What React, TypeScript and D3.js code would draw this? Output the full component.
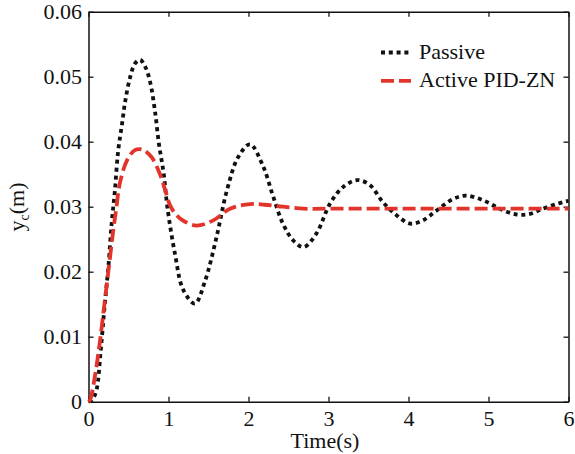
import React from "react";
import * as d3 from "d3";

// time (s) / displacement (m)
const tPassive = [0, 0.05, 0.1, 0.15, 0.2, 0.25, 0.29, 0.33, 0.37, 0.42, 0.46, 0.52, 0.58, 0.645, 0.71, 0.77, 0.83, 0.88, 0.94, 0.985, 1.08, 1.185, 1.33, 1.46, 1.6, 1.73, 1.87, 2.02, 2.18, 2.31, 2.43, 2.56, 2.69, 2.85, 3.02, 3.18, 3.36, 3.52, 3.68, 3.85, 4.02, 4.18, 4.35, 4.56, 4.72, 4.93, 5.14, 5.35, 5.52, 5.68, 5.93, 6.0];
const yPassive = [0, 0.0004, 0.0018, 0.0075, 0.0145, 0.021, 0.0275, 0.0325, 0.0385, 0.0428, 0.0463, 0.0499, 0.052, 0.0526, 0.0515, 0.0492, 0.0448, 0.0397, 0.0351, 0.03, 0.0228, 0.0172, 0.0151, 0.0187, 0.0253, 0.0325, 0.0376, 0.0396, 0.0363, 0.0315, 0.0274, 0.0248, 0.0238, 0.0259, 0.0305, 0.033, 0.0341, 0.0333, 0.0307, 0.0287, 0.0274, 0.0279, 0.0294, 0.0312, 0.0317, 0.031, 0.0297, 0.0288, 0.0289, 0.0297, 0.0307, 0.0309];

const tActive = [0, 0.02, 0.08, 0.14, 0.2, 0.26, 0.31, 0.35, 0.39, 0.48, 0.58, 0.67, 0.79, 0.89, 0.96, 1.02, 1.1, 1.19, 1.35, 1.56, 1.77, 2.02, 2.2, 2.43, 2.69, 3.0, 3.5, 4.0, 4.5, 5.0, 5.5, 6.0];
const yActive = [0, 0.0003, 0.0039, 0.009, 0.0151, 0.0213, 0.0264, 0.03, 0.0335, 0.0371, 0.0387, 0.0388, 0.0376, 0.0351, 0.0325, 0.0302, 0.0287, 0.0278, 0.0271, 0.0279, 0.0297, 0.0304, 0.0303, 0.03, 0.0297, 0.0297, 0.0297, 0.0297, 0.0297, 0.0297, 0.0297, 0.0297];

const xTicks = [0, 1, 2, 3, 4, 5, 6];
const yTicks = [0, 0.01, 0.02, 0.03, 0.04, 0.05, 0.06];
const seriesNames = ["Passive", "Active PID-ZN"];

const FONT = "Liberation Serif, Times New Roman, serif";
const W = 575, H = 454;
const plot = { left: 88.5, right: 568.5, top: 11.7, bottom: 401.7 };

const styleText = (sel) =>
  sel.style("font-family", FONT).style("font-size", "22px").attr("fill", "#111");

const styleAxis = (g) => {
  g.selectAll("path").attr("stroke", "#111").attr("stroke-width", 1.5);
  g.selectAll("line").attr("stroke", "#111").attr("stroke-width", 1.3);
  g.selectAll("text").call(styleText);
};

const App = () => {
  const ref = React.useRef(null);

  React.useEffect(() => {
    document.body.style.margin = "0";
    const svg = d3.select(ref.current);
    svg.selectAll("*").remove();

    const x = d3.scaleLinear([0, 6], [plot.left, plot.right]);
    const y = d3.scaleLinear([0, 0.06], [plot.bottom, plot.top]);
    const fmtY = (d) => (d === 0 ? "0" : d3.format(".2f")(d));

    svg.append("g").attr("transform", `translate(0,${plot.bottom})`)
      .call(d3.axisBottom(x).tickValues(xTicks).tickSizeInner(-5).tickSizeOuter(0).tickPadding(8.7).tickFormat(d3.format("d")))
      .call(styleAxis);
    svg.append("g").attr("transform", `translate(0,${plot.top})`)
      .call(d3.axisTop(x).tickValues(xTicks).tickSizeInner(-5).tickSizeOuter(0).tickFormat(() => ""))
      .call(styleAxis);
    svg.append("g").attr("transform", `translate(${plot.left},0)`)
      .call(d3.axisLeft(y).tickValues(yTicks).tickSizeInner(-5).tickSizeOuter(0).tickPadding(6.5).tickFormat(fmtY))
      .call(styleAxis);
    svg.append("g").attr("transform", `translate(${plot.right},0)`)
      .call(d3.axisRight(y).tickValues(yTicks).tickSizeInner(-5).tickSizeOuter(0).tickFormat(() => ""))
      .call(styleAxis);

    const line = d3.line()
      .x((d) => x(d[0]))
      .y((d) => y(d[1]))
      .curve(d3.curveCatmullRom.alpha(0.5));

    const passive = tPassive.map((t, i) => [t, yPassive[i]]);
    const active = tActive.map((t, i) => [t, yActive[i]]);

    svg.append("path").datum(passive)
      .attr("d", line).attr("fill", "none")
      .attr("stroke", "#111").attr("stroke-width", 3.8).attr("stroke-dasharray", "4 3.8");
    svg.append("path").datum(active)
      .attr("d", line).attr("fill", "none")
      .attr("stroke", "#e3342c").attr("stroke-width", 3.8).attr("stroke-dasharray", "13 5");

    // legend
    const legend = svg.append("g");
    const styles = [
      { stroke: "#111", dash: "4 3.8" },
      { stroke: "#e3342c", dash: "13 5" },
    ];
    seriesNames.forEach((name, i) => {
      const ly = 52.5 + i * 28.3;
      legend.append("line")
        .attr("x1", 381).attr("x2", 411).attr("y1", ly).attr("y2", ly)
        .attr("stroke", styles[i].stroke).attr("stroke-width", 3.8)
        .attr("stroke-dasharray", styles[i].dash);
      legend.append("text")
        .attr("x", 419).attr("y", ly + 6.5)
        .call(styleText)
        .text(name);
    });

    svg.append("text")
      .attr("x", 325).attr("y", 447.5)
      .attr("text-anchor", "middle")
      .call(styleText)
      .text("Time(s)");

    const yl = svg.append("text")
      .attr("transform", `translate(24,207) rotate(-90)`)
      .attr("text-anchor", "middle")
      .call(styleText);
    yl.append("tspan").text("y");
    yl.append("tspan").style("font-size", "14px").attr("dy", 5).text("c");
    yl.append("tspan").attr("dy", -5).text("(m)");
  }, []);

  return <svg ref={ref} width={W} height={H} style={{ display: "block" }} />;
};

export default App;
